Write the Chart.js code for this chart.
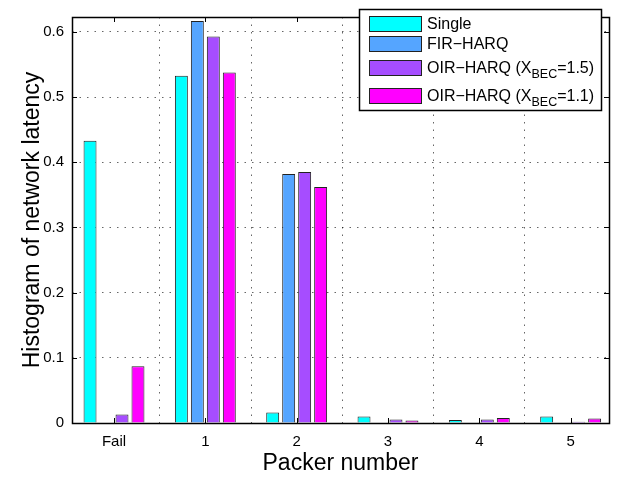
<!DOCTYPE html>
<html>
<head>
<meta charset="utf-8">
<script src="https://cdn.jsdelivr.net/npm/chart.js@4"></script>
<style>
  html, body { margin: 0; padding: 0; background: #fff; }
  #wrap { width: 622px; height: 478px; }
</style>
</head>
<body>
<div id="wrap"><canvas id="latencyChart" width="622" height="478"></canvas></div>
<script>
// data
const categories = ['Fail', '1', '2', '3', '4', '5'];
const positions = [0, 1, 2, 3, 4, 5];
const seriesLabels = ['Single', 'FIR\u2212HARQ', 'OIR\u2212HARQ (X_{BEC}=1.5)', 'OIR\u2212HARQ (X_{BEC}=1.1)'];
const singleVals = [0.433, 0.533, 0.016, 0.010, 0.0045, 0.010];
const firVals = [0, 0.617, 0.382, 0, 0, 0];
const oir15Vals = [0.013, 0.593, 0.385, 0.0055, 0.0055, 0.002];
const oir11Vals = [0.087, 0.538, 0.362, 0.004, 0.0075, 0.007];
const yTicks = [0, 0.1, 0.2, 0.3, 0.4, 0.5, 0.6];

const colors = ['#00ffff', '#55a5ff', '#a64dff', '#ff00ff'];
const FONT = '"Liberation Sans", Arial, sans-serif';

function toPoints(vals) {
    return vals.map((v, i) => ({ x: positions[i], y: v }));
}

const allVals = [singleVals, firVals, oir15Vals, oir11Vals];
const datasets = allVals.map((vals, i) => ({
    label: seriesLabels[i],
    data: toPoints(vals),
    backgroundColor: colors[i],
    borderColor: '#222',
    borderWidth: 1,
    categoryPercentage: 0.70,
    barPercentage: 0.81
}));

// draws the full box, inner tick marks and the legend (with subscripts)
const matlabFrame = {
    id: 'matlabFrame',
    afterDraw(chart) {
        const ctx = chart.ctx;
        const a = chart.chartArea;
        const xs = chart.scales.x, ys = chart.scales.y;
        ctx.save();
        ctx.strokeStyle = '#000';
        ctx.lineWidth = 1;
        ctx.beginPath();
        positions.forEach(p => {
            const px = Math.round(xs.getPixelForValue(p)) + 0.5;
            ctx.moveTo(px, a.bottom); ctx.lineTo(px, a.bottom - 5);
            ctx.moveTo(px, a.top); ctx.lineTo(px, a.top + 5);
        });
        yTicks.forEach(v => {
            const py = Math.round(ys.getPixelForValue(v)) + 0.5;
            ctx.moveTo(a.left, py); ctx.lineTo(a.left + 5, py);
            ctx.moveTo(a.right, py); ctx.lineTo(a.right - 5, py);
        });
        ctx.stroke();
        ctx.lineWidth = 1.5;
        ctx.strokeRect(Math.round(a.left) + 0.5, Math.round(a.top) + 0.5,
            Math.round(a.right - a.left), Math.round(a.bottom - a.top));

        // legend
        const lx = 359, ly = 9, lw = 242, lh = 101;
        ctx.fillStyle = '#fff';
        ctx.fillRect(lx, ly, lw, lh);
        ctx.lineWidth = 1.5;
        ctx.strokeRect(lx + 0.5, ly + 0.5, lw, lh);
        const rowY = [23, 43, 67, 95];
        ctx.lineWidth = 1;
        ctx.textBaseline = 'alphabetic';
        seriesLabels.forEach((lab, i) => {
            const cy = rowY[i];
            ctx.fillStyle = colors[i];
            ctx.fillRect(369, cy - 7, 52, 15);
            ctx.strokeStyle = '#222';
            ctx.strokeRect(369.5, cy - 6.5, 52, 15);
            let x = 427;
            const base = cy + 6;
            const parts = lab.split(/_\{([^}]*)\}/);
            parts.forEach((txt, k) => {
                const sub = k % 2 === 1;
                ctx.font = (sub ? '12.5px ' : '16px ') + FONT;
                ctx.fillStyle = '#000';
                ctx.fillText(txt, x, sub ? base + 5 : base);
                x += ctx.measureText(txt).width;
            });
        });
        ctx.restore();
    }
};

new Chart(document.getElementById('latencyChart'), {
    type: 'bar',
    data: { datasets: datasets },
    options: {
        responsive: false,
        animation: false,
        layout: { padding: { top: 2, right: 13, left: 0, bottom: 0 } },
        plugins: { legend: { display: false }, tooltip: { enabled: false } },
        scales: {
            x: {
                type: 'linear',
                min: -0.46,
                max: 5.42,
                offset: false,
                afterBuildTicks: s => { s.ticks = positions.map(v => ({ value: v })); },
                afterFit: s => { s.height = 55; },
                ticks: {
                    callback: v => categories[positions.indexOf(v)],
                    font: { family: FONT, size: 15 },
                    color: '#000',
                    padding: 10,
                    maxRotation: 0
                },
                grid: { color: 'rgba(0,0,0,0.6)', drawTicks: false },
                border: { display: false, dash: [1.5, 6] },
                title: { display: true, text: 'Packer number', font: { family: FONT, size: 23 }, color: '#000', padding: { top: 0, bottom: 1 } }
            },
            y: {
                min: 0,
                max: 0.623,
                afterBuildTicks: s => { s.ticks = yTicks.map(v => ({ value: v })); },
                afterFit: s => { s.width = 72; },
                ticks: {
                    callback: v => String(Math.round(v * 10) / 10),
                    font: { family: FONT, size: 15 },
                    color: '#000',
                    padding: 8
                },
                grid: { color: 'rgba(0,0,0,0.6)', drawTicks: false },
                border: { display: false, dash: [1.5, 6] },
                title: { display: true, text: 'Histogram of network latency', font: { family: FONT, size: 23 }, color: '#000', padding: { top: 19, bottom: 0 } }
            }
        }
    },
    plugins: [matlabFrame]
});
</script>
</body>
</html>
